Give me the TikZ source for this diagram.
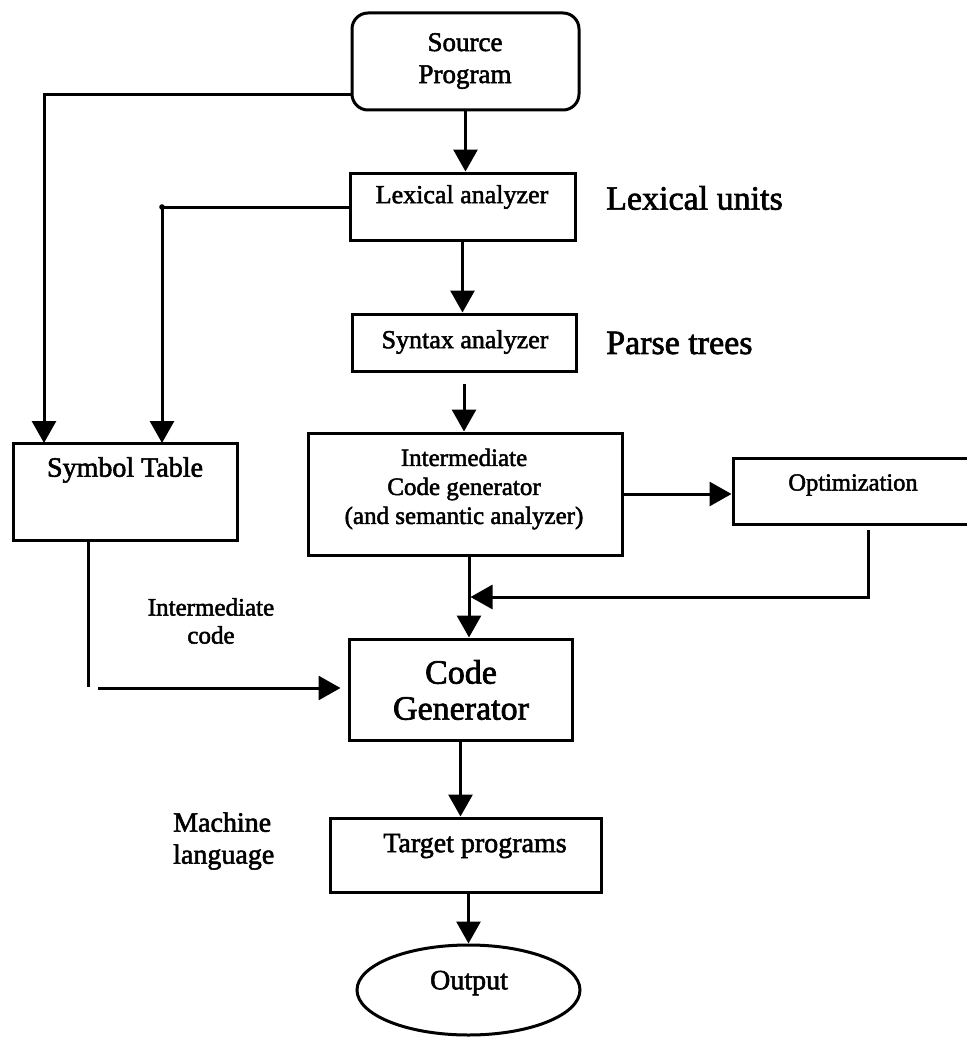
\documentclass[tikz,border=0pt]{standalone}
\usepackage{fontspec}
\setmainfont{Liberation Serif}
\newfontfamily\heavyserif{Liberation Serif}[UprightFeatures={FakeBold=2}]
\usetikzlibrary{arrows.meta,shapes.geometric}

\newcommand\fsz[2]{\heavyserif\fontsize{#1}{#2}\selectfont}

\begin{document}
\begin{tikzpicture}[x=1pt,y=-1pt,
  box/.style={draw, line width=3pt, inner sep=0pt},
  lbl/.style={inner sep=0pt, align=center},
  wire/.style={line width=3pt},
  arr/.style={line width=3pt, -{Triangle[width=24pt,length=22pt]}}]

\useasboundingbox (0,0) rectangle (966,1038);
\fill[white] (0,0) rectangle (966,1038);

% ---- boxes ----
\node[box, rounded corners=16pt, minimum width=227pt, minimum height=97pt] (src) at (465.5,61.5) {};
\node[box, minimum width=225pt, minimum height=67pt] (lex) at (462.5,206.5) {};
\node[box, minimum width=224pt, minimum height=97pt] (sym) at (125,491.5) {};
\node[box, minimum width=224pt, minimum height=57pt] (syn) at (464,342.5) {};
\node[box, minimum width=314pt, minimum height=122pt] (inter) at (465,494) {};
\node[box, minimum width=242pt, minimum height=66pt] (opt) at (854,491) {};
\node[box, minimum width=223pt, minimum height=101pt] (code) at (460.5,689.5) {};
\node[box, minimum width=271pt, minimum height=74pt] (tgt) at (465.5,855) {};
\node[box, ellipse, minimum width=223pt, minimum height=90pt] (out) at (468.5,990) {};

% ---- texts ----
\node[lbl, font=\fsz{27}{32}] (srcT) at (465,61) {Source\\Program};
\node[lbl, font=\fsz{26}{30}] (lexT) at (462,197) {Lexical analyzer};
\node[lbl, font=\fsz{34}{38}, anchor=west] (lexU) at (606,198) {Lexical units};
\node[lbl, font=\fsz{28}{32}] (symT) at (125,470) {Symbol Table};
\node[lbl, font=\fsz{26}{30}] (synT) at (465,342) {Syntax analyzer};
\node[lbl, font=\fsz{34}{38}, anchor=west] (synU) at (606,343) {Parse trees};
\node[lbl, font=\fsz{25}{29}] (interT) at (464,489) {Intermediate\\Code generator\\(and semantic analyzer)};
\node[lbl, font=\fsz{24.5}{28}] (optT) at (853,485) {Optimization};
\node[lbl, font=\fsz{25}{28}] (icT) at (211,621) {Intermediate\\code};
\node[lbl, font=\fsz{34}{36}] (codeT) at (461,690) {Code\\Generator};
\node[lbl, font=\fsz{28}{32}, align=left, anchor=west] (mlT) at (173,841) {Machine\\language};
\node[lbl, font=\fsz{28}{32}] (tgtT) at (475,846) {Target programs};
\node[lbl, font=\fsz{28}{32}] (outT) at (469,983) {Output};

% ---- junction points ----
\coordinate (tapS) at (352,95);
\coordinate (symIn1) at (44,443);
\coordinate (tapL) at (350,207);
\coordinate (symIn2) at (162,443);
\coordinate (fb) at (868,524);
\coordinate (jn) at (469,597);
\coordinate (sb) at (88,687);
\coordinate (hb) at (98,688);

% ---- connectors ----
\draw[arr] (src.south) -- (src.south |- lex.north);
\draw[arr] (tapS) -| (symIn1);
\draw[arr] (tapL) -| (symIn2);
\fill (symIn2 |- tapL) circle (2.8pt);
\draw[arr] (lex.south) -- (lex.south |- syn.north);
\draw[arr, shorten <=11pt] (syn.south) -- (syn.south |- inter.north);
\draw[arr] (inter.east) -- (inter.east -| opt.west);
\draw[arr] (inter.south -| jn) -- (code.north -| jn);
\draw[arr, shorten <=6pt, shorten >=1.5pt] (fb) |- (jn);
\draw[wire] (sym.south -| sb) -- (sb);
\draw[arr, shorten >=7pt] (hb) -- (hb -| code.west);
\draw[arr] (code.south) -- (code.south |- tgt.north);
\draw[arr] (tgt.south -| out.north) -- (out.north);
\end{tikzpicture}
\end{document}
